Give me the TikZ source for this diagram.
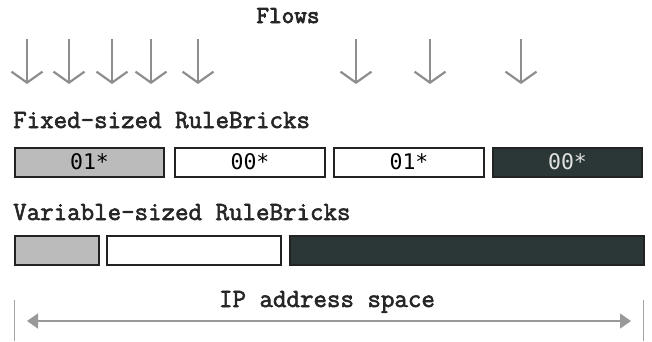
\documentclass[tikz,border=0pt]{standalone}
\usepackage{fontspec}
\newfontfamily\headfont[FakeBold=2.2]{Latin Modern Mono}
\newfontfamily\titlefont[FakeBold=3.2]{Latin Modern Mono}
\newfontfamily\boxfont{DejaVu Sans Mono}
\usetikzlibrary{arrows.meta}
\definecolor{flowgray}{HTML}{8E8E8E}
\definecolor{lightbrick}{HTML}{BBBBBB}
\definecolor{darkbrick}{HTML}{2B3636}
\definecolor{edgecol}{HTML}{222222}
\begin{document}
\begin{tikzpicture}[x=1pt,y=-1pt,
  heading/.style={font=\headfont\fontsize{26.2}{28}\selectfont, inner sep=0pt, text=black!85},
  brick/.style={draw=edgecol, line width=2pt, inner sep=0pt, minimum height=29pt,
     font=\boxfont\fontsize{21.5}{24}\selectfont},
  flowarrow/.style={draw=flowgray, line width=2.2pt,
     -{Straight Barb[length=11pt,width=31pt,line width=2.2pt]}},
  spanarrow/.style={draw=flowgray!90, line width=1.6pt,
     {Triangle[length=11pt,width=15pt]}-{Triangle[length=11pt,width=15pt]}},
  bar/.style={draw=flowgray!80, line width=1pt}]
\useasboundingbox (0,0) rectangle (652,341);

% title
\node[heading, font=\titlefont\fontsize{24.5}{26}\selectfont, anchor=base] (flows) at (288,23) {Flows};

% flow arrows
\foreach \i/\x in {1/27,2/69,3/112,4/151,5/198,6/356,7/430,8/521}{
  \coordinate (ft\i) at (\x,39);
  \coordinate (fb\i) at (\x,84);
  \draw[flowarrow] (ft\i) -- (fb\i);
}

% fixed-sized bricks
\node[heading, anchor=base west] (fixedlabel) at (13,128) {Fixed-sized RuleBricks};
\node[brick, fill=lightbrick, minimum width=149pt] (f1) at (89.5,162) {01*};
\node[brick, fill=white, minimum width=150pt] (f2) at (250,162) {00*};
\node[brick, fill=white, minimum width=150pt] (f3) at (409,162) {01*};
\node[brick, fill=darkbrick, text=white!88!black, minimum width=149pt] (f4) at (567.5,162) {00*};

% variable-sized bricks
\node[heading, anchor=base west] (varlabel) at (13,220) {Variable-sized RuleBricks};
\node[brick, fill=lightbrick, minimum width=84pt] (v1) at (56.5,250) {};
\node[brick, fill=white, minimum width=174pt] (v2) at (193.5,250) {};
\node[brick, fill=darkbrick, minimum width=354pt] (v3) at (466.5,250) {};

% IP address space
\node[heading, anchor=base] (iplabel) at (327,307) {IP address space};
\coordinate (bl1) at (14,300);
\coordinate (bl2) at (14,341);
\coordinate (br1) at (643,300);
\coordinate (br2) at (643,341);
\draw[bar] (bl1) -- (bl2);
\draw[bar] (br1) -- (br2);
\coordinate (al) at (27,321);
\coordinate (ar) at (631,321);
\draw[spanarrow] (al) -- (ar);
\end{tikzpicture}
\end{document}
